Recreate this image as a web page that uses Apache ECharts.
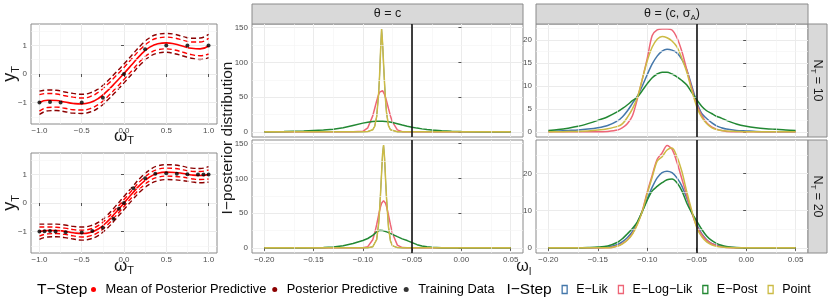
<!DOCTYPE html>
<html><head><meta charset="utf-8">
<script src="https://cdn.jsdelivr.net/npm/echarts@6/dist/echarts.min.js"></script>
<style>html,body{margin:0;padding:0;background:#fff}#c{width:830px;height:305px}</style>
</head><body><div id="c"></div>
<script>
// ---------------- DATA ----------------
// T-Step panels (x grid of the predictive curves)
const leftX = [-1.0,-0.9,-0.8,-0.7,-0.6,-0.5,-0.4,-0.3,-0.2,-0.1,0.0,0.1,0.2,0.3,0.4,0.5,0.6,0.7,0.8,0.9,1.0];
// N_T = 10
const mean10    = [-1.00,-0.92,-0.93,-0.98,-1.03,-1.05,-1.00,-0.85,-0.60,-0.30,0.02,0.35,0.68,0.93,1.06,1.09,1.05,0.97,0.90,0.88,0.98];
const innerUp10 = [-0.72,-0.68,-0.70,-0.76,-0.81,-0.84,-0.79,-0.63,-0.38,-0.08,0.23,0.56,0.88,1.13,1.26,1.29,1.26,1.18,1.12,1.12,1.25];
const innerLo10 = [-1.30,-1.17,-1.16,-1.20,-1.25,-1.26,-1.21,-1.06,-0.81,-0.51,-0.19,0.14,0.47,0.72,0.85,0.88,0.84,0.76,0.68,0.64,0.70];
const outerUp10 = [-0.60,-0.56,-0.57,-0.63,-0.68,-0.71,-0.66,-0.51,-0.26,0.04,0.35,0.68,1.01,1.26,1.39,1.42,1.39,1.31,1.25,1.26,1.39];
const outerLo10 = [-1.42,-1.29,-1.28,-1.32,-1.37,-1.38,-1.33,-1.18,-0.93,-0.63,-0.31,0.02,0.35,0.60,0.73,0.76,0.71,0.63,0.55,0.51,0.57];
const trainX10 = [-1,-0.875,-0.75,-0.5,-0.25,0,0.25,0.5,0.75,1];
const trainY10 = [-1.0,-0.98,-1.0,-1.0,-0.83,0.0,0.87,1.0,1.0,1.0];
// N_T = 20
const mean20    = [-1.00,-0.96,-0.96,-0.99,-1.04,-1.07,-1.03,-0.90,-0.66,-0.34,0.00,0.34,0.66,0.90,1.04,1.08,1.07,1.03,0.98,0.96,1.00];
const innerUp20 = [-0.84,-0.84,-0.85,-0.88,-0.93,-0.95,-0.91,-0.78,-0.54,-0.22,0.12,0.46,0.79,1.03,1.18,1.22,1.21,1.16,1.11,1.10,1.16];
const innerLo20 = [-1.16,-1.08,-1.07,-1.10,-1.15,-1.19,-1.15,-1.02,-0.78,-0.46,-0.12,0.22,0.53,0.77,0.90,0.94,0.93,0.90,0.85,0.82,0.84];
const outerUp20 = [-0.74,-0.74,-0.74,-0.77,-0.82,-0.84,-0.80,-0.67,-0.43,-0.11,0.23,0.57,0.90,1.15,1.30,1.34,1.33,1.28,1.22,1.21,1.27];
const outerLo20 = [-1.27,-1.19,-1.18,-1.21,-1.26,-1.30,-1.26,-1.13,-0.89,-0.57,-0.23,0.11,0.42,0.65,0.78,0.82,0.81,0.78,0.74,0.71,0.73];
const trainX20 = [-1,-0.94,-0.875,-0.81,-0.69,-0.5,-0.375,-0.25,-0.125,-0.06,0,0.11,0.25,0.37,0.5,0.625,0.75,0.875,0.94,1.0];
const trainY20 = [-1.0,-0.99,-0.98,-1.0,-1.02,-1.03,-0.98,-0.87,-0.55,-0.2,0.0,0.52,0.87,1.02,1.04,1.02,1.01,1.0,1.0,1.0];

// I-Step densities, theta = c
const xMid = [-0.2,-0.18,-0.16,-0.14,-0.13,-0.12,-0.11,-0.1,-0.095,-0.09,-0.088,-0.086,-0.084,-0.083,-0.082,-0.081,-0.08,-0.079,-0.078,-0.077,-0.076,-0.074,-0.072,-0.07,-0.065,-0.06,-0.055,-0.05,-0.045,-0.04,-0.035,-0.03,-0.02,-0.01,0,0.02,0.05];
const midTopELik   = [0,0,0,0,0,0,0,0.1,0.5,3,8,22,55,82,118,148,128,98,70,46,28,9,3,1.2,0.2,0,0,0,0,0,0,0,0,0,0,0,0];
const midTopELogLik= [0,0,0,0,0,0,0,0.8,5.9,23,33.6,44.6,53.9,57.2,59.3,60,59.3,57.2,53.9,49.6,44.6,33.6,23,14.3,2.9,0.3,0,0,0,0,0,0,0,0,0,0,0];
const midTopEPost  = [0.2,0.5,1.2,2.6,3.8,5.8,9.2,12.6,14,14.8,15,15.2,15.3,15.3,15.3,15.3,15.3,15.2,15.2,15.1,15,14.7,14.2,13.6,11.8,9.8,8,6.6,5.4,4.3,3.4,2.6,1.5,0.9,0.5,0.2,0.1];
const midTopPoint  = [0,0,0,0,0,0,0,0.1,0.5,3,8,22,55,82,118,148,128,98,70,46,28,9,3,1.2,0.2,0,0,0,0,0,0,0,0,0,0,0,0];
const midBotELik   = [0,0,0,0,0,0,0,0,0.2,1.5,4,12,35,55,80,108,135,148,130,100,72,30,10,3,0.4,0,0,0,0,0,0,0,0,0,0,0,0];
const midBotELogLik= [0,0,0,0,0,0,0,0.1,1.7,11.7,21,33.4,47.3,53.9,59.7,64.2,67,68,67,64.2,59.7,47.3,33.4,21,4,0.4,0,0,0,0,0,0,0,0,0,0,0];
const midBotEPost  = [0.05,0.1,0.2,0.6,1.4,3.2,6.2,10.6,13.5,18,20.5,23,24.8,25.2,25.3,25.2,25,24.7,24.2,23.7,23.1,22,20.8,19.5,16.2,13,10.5,7.5,4.6,2.6,1.5,0.9,0.3,0.1,0.05,0,0];
const midBotPoint  = [0,0,0,0,0,0,0,0,0.2,1.5,4,12,35,55,80,108,135,148,130,100,72,30,10,3,0.4,0,0,0,0,0,0,0,0,0,0,0,0];

// I-Step densities, theta = (c, sigma_A)
const xRight = [-0.2,-0.19,-0.18,-0.17,-0.16,-0.15,-0.14,-0.13,-0.125,-0.12,-0.115,-0.11,-0.105,-0.1,-0.095,-0.09,-0.085,-0.08,-0.075,-0.07,-0.065,-0.06,-0.055,-0.05,-0.045,-0.04,-0.035,-0.03,-0.025,-0.02,-0.01,0,0.01,0.02,0.03,0.04,0.05];
const rTopELik    = [0.1,0.2,0.3,0.4,0.6,0.9,1.4,2.4,3.3,4.6,6.2,7.8,10,12.5,14.8,16.5,17.6,18,17.8,17.2,15.8,13.5,10,6.5,4,2.9,2,1.3,0.9,0.6,0.3,0.2,0.1,0.05,0.05,0.05,0.05];
const rTopELogLik = [0,0,0,0,0,0,0.1,0.4,0.9,1.8,3.5,7.2,11.5,16,21,22.2,22.4,22.4,22.2,20.5,17.5,13.5,9.5,6,3.6,2,1.1,0.6,0.3,0.1,0,0,0,0,0,0,0];
const rTopEPost   = [0.3,0.5,0.8,1.2,1.8,2.5,3.3,4.4,5.1,5.9,6.8,7.6,9,10.5,11.8,12.6,13,13,12.6,12,11.2,10.2,8.6,7,5.6,4.6,4,3.4,3,2.5,1.7,1.2,0.9,0.7,0.55,0.4,0.3];
const rTopPoint   = [0,0,0.1,0.1,0.2,0.4,0.7,1.2,1.8,3.2,5,7.5,11.5,15.5,18.5,20.2,20.8,20.5,19.8,18.5,16,13,9,5.5,3.2,1.8,0.9,0.5,0.3,0.2,0.1,0,0,0,0,0,0];
const rBotELik    = [0,0,0,0,0,0,0.2,0.9,1.7,2.8,4.4,6.8,9.8,13.2,16.3,18.8,20.2,20.6,20.2,18.8,16.6,13.3,9.5,6.3,3.8,2.2,1.2,0.7,0.4,0.2,0.05,0,0,0,0,0,0];
const rBotELogLik = [0,0,0,0,0,0,0,0.5,1.2,2.2,3.8,6.5,10,15,19.5,23.8,25.5,27.5,26.5,23,18.5,14,9.5,5.8,3.6,2,1.1,0.6,0.3,0.1,0,0,0,0,0,0,0];
const rBotEPost   = [0,0,0.05,0.05,0.1,0.2,0.5,1.5,2.5,3.8,5.2,7,9.8,12.8,15.3,16.5,17.5,18.3,18.5,17.5,15.3,12,9.4,7.2,5,3.2,2,1.2,0.7,0.4,0.1,0,0,0,0,0,0];
const rBotPoint   = [0,0,0,0,0,0,0,0.5,1.1,2.1,3.7,6.3,9.8,14.6,19,23.3,24.5,26.3,26.8,24.5,20.5,15,10,5.5,3,1.6,0.8,0.4,0.2,0.1,0,0,0,0,0,0,0];

const trueOmega = -0.05;
const iStepNames = ['E\u2212Lik','E\u2212Log\u2212Lik','E\u2212Post','Point'];
const tStepNames = ['Mean of Posterior Predictive','Posterior Predictive','Training Data'];

// tick values
const leftXTicks = [-1,-0.5,0,0.5,1], leftXMinor = [-0.75,-0.25,0.25,0.75];
const leftYTicks = [-1,0,1], leftYMinor = [-1.5,-0.5,0.5,1.5];
const densXTicks = [-0.2,-0.15,-0.1,-0.05,0,0.05], densXMinor = [-0.175,-0.125,-0.075,-0.025,0.025];
const midYTicks = [0,50,100,150], midYMinor = [25,75,125];
const rTopYTicks = [0,5,10,15,20], rTopYMinor = [2.5,7.5,12.5,17.5,22.5];
const rBotYTicks = [0,10,20], rBotYMinor = [5,15,25];

// ---------------- STYLE / LAYOUT ----------------
const FF = "'Liberation Sans', Arial, sans-serif";
const COLORS = ['#4477AA','#EE6677','#228833','#CCBB44'];
const RED = '#FF0000', DARKRED = '#8B0000';
const BORDER = '#8a8a8a';
const grids = [
  {left:31, top:24, width:186, height:100},
  {left:31, top:153, width:186, height:100},
  {left:252, top:24, width:271, height:113},
  {left:252, top:140, width:271, height:113},
  {left:536, top:24, width:272, height:113},
  {left:536, top:140, width:272, height:113}
].map(g => Object.assign(g, {show:true, borderColor:BORDER, borderWidth:1, backgroundColor:'#fff'}));

const minus = '\u2212';
const fmt = d => v => (v < -1e-9 ? minus : '') + Math.abs(v).toFixed(d);

const xAxis = [], yAxis = [], series = [];
function addAxis(list, dim, gi, min, max, ticks, show, formatter) {
  list.push({
    type:'value', gridIndex:gi, min, max, position: dim==='x' ? 'bottom' : 'left',
    axisLine:{show:false},
    axisTick:{show:show, customValues:ticks, length:3, lineStyle:{color:'#555', width:1}},
    axisLabel:{show:show, customValues:ticks, formatter, fontSize:8, color:'#4d4d4d', margin: dim==='x' ? 3 : 4, fontFamily:FF},
    splitLine:{show:true, lineStyle:{color:'#ebebeb', width:1}}
  });
}
function minorGrid(gi, xs, ys) {
  series.push({type:'line', xAxisIndex:gi, yAxisIndex:gi, data:[], silent:true, z:1,
    markLine:{silent:true, symbol:['none','none'], animation:false, label:{show:false},
      lineStyle:{color:'#f3f3f3', width:0.6, type:'solid'},
      data:[...xs.map(v => ({xAxis:v})), ...ys.map(v => ({yAxis:v}))]}});
}
// left panels
addAxis(xAxis,'x',0,-1.1,1.1,leftXTicks,true,fmt(1));
addAxis(yAxis,'y',0,-1.75,1.75,leftYTicks,true,fmt(0));
addAxis(xAxis,'x',1,-1.1,1.1,leftXTicks,true,fmt(1));
addAxis(yAxis,'y',1,-1.75,1.75,leftYTicks,true,fmt(0));
// middle
addAxis(xAxis,'x',2,-0.2125,0.0625,densXTicks,false,fmt(2));
addAxis(yAxis,'y',2,-7.4,155.4,midYTicks,true,fmt(0));
addAxis(xAxis,'x',3,-0.2125,0.0625,densXTicks,true,fmt(2));
addAxis(yAxis,'y',3,-7.4,155.4,midYTicks,true,fmt(0));
// right
addAxis(xAxis,'x',4,-0.2125,0.0625,densXTicks,false,fmt(2));
addAxis(yAxis,'y',4,-1.12,23.5,rTopYTicks,true,fmt(0));
addAxis(xAxis,'x',5,-0.2125,0.0625,densXTicks,true,fmt(2));
addAxis(yAxis,'y',5,-1.38,28.98,rBotYTicks,true,fmt(0));

minorGrid(0, leftXMinor, leftYMinor);
minorGrid(1, leftXMinor, leftYMinor);
minorGrid(2, densXMinor, midYMinor);
minorGrid(3, densXMinor, midYMinor);
minorGrid(4, densXMinor, rTopYMinor);
minorGrid(5, densXMinor, rBotYMinor);

function leftSeries(gi, mean, iu, il, ou, ol, tx, ty) {
  const mk = arr => leftX.map((x,i) => [x, arr[i]]);
  const dash = (name, arr, color) => ({type:'line', name, xAxisIndex:gi, yAxisIndex:gi, data:mk(arr),
    showSymbol:false, smooth:true, silent:true, lineStyle:{color, width:1.4, type:[5,3]}, itemStyle:{color}});
  series.push(dash(tStepNames[1], ou, DARKRED), dash(tStepNames[1], ol, DARKRED),
              dash(tStepNames[0], iu, RED), dash(tStepNames[0], il, RED));
  series.push({type:'line', name:tStepNames[0], xAxisIndex:gi, yAxisIndex:gi, data:mk(mean),
    showSymbol:false, smooth:true, silent:true, lineStyle:{color:RED, width:1.6}, itemStyle:{color:RED}});
  series.push({type:'scatter', name:tStepNames[2], xAxisIndex:gi, yAxisIndex:gi,
    data:tx.map((x,i)=>[x, ty[i]]), symbolSize:4, silent:true, itemStyle:{color:'#000'}, z:5});
}
leftSeries(0, mean10, innerUp10, innerLo10, outerUp10, outerLo10, trainX10, trainY10);
leftSeries(1, mean20, innerUp20, innerLo20, outerUp20, outerLo20, trainX20, trainY20);

function densSeries(gi, xs, arrs, smooth, hiddenFirst) {
  arrs.forEach((arr, k) => {
    const w = (hiddenFirst && k === 0) ? 1.0 : 1.5;
    const s = {type:'line', name:iStepNames[k], xAxisIndex:gi, yAxisIndex:gi,
      data: xs.map((x,i)=>[x, arr[i]]), showSymbol:false, smooth, silent:true,
      lineStyle:{color:COLORS[k], width:w}, itemStyle:{color:COLORS[k]}};
    if (k === 3) {
      s.markLine = {silent:true, symbol:['none','none'], animation:false, label:{show:false},
        lineStyle:{color:'#111', width:1.6, type:'solid'}, data:[{xAxis: trueOmega}]};
    }
    series.push(s);
  });
}
densSeries(2, xMid, [midTopELik, midTopELogLik, midTopEPost, midTopPoint], false, true);
densSeries(3, xMid, [midBotELik, midBotELogLik, midBotEPost, midBotPoint], false, true);
densSeries(4, xRight, [rTopELik, rTopELogLik, rTopEPost, rTopPoint], 0.3, false);
densSeries(5, xRight, [rBotELik, rBotELogLik, rBotEPost, rBotPoint], 0.3, false);

// ---------------- TEXT / STRIPS ----------------
function richText(x, y, parts, fs, sfs, rot, align) {
  let txt = '';
  parts.forEach(p => { txt += (p[1] ? '{s|' : '{m|') + p[0] + '}'; });
  return {type:'text', x, y, rotation: rot || 0, silent:true,
    style:{text:txt, align: align || 'center', verticalAlign:'middle',
      rich:{m:{fontSize:fs, fontFamily:FF, fill:'#1a1a1a', lineHeight:Math.round(fs*1.25)},
            s:{fontSize:sfs, fontFamily:FF, fill:'#1a1a1a', lineHeight:sfs, verticalAlign:'bottom'}}}};
}
const stripRect = (x,y,w,h) => ({type:'rect', silent:true, shape:{x,y,width:w,height:h}, style:{fill:'#d9d9d9', stroke:BORDER, lineWidth:1}});
const graphic = [
  stripRect(252,4,271,20), stripRect(536,4,272,20),
  stripRect(808,24,19,113), stripRect(808,140,19,113),
  richText(387.5,14,[['\u03b8 = c']],12.5,8),
  richText(672,14,[['\u03b8 = (c, \u03c3'],['A',1],[')']],12.5,8),
  richText(817.5,80.5,[['N'],['T',1],[' = 10']],12.5,8,-Math.PI/2),
  richText(817.5,196.5,[['N'],['T',1],[' = 20']],12.5,8,-Math.PI/2),
  richText(10,74,[['y'],['T',1]],18,11,Math.PI/2),
  richText(10,203,[['y'],['T',1]],18,11,Math.PI/2),
  richText(124,136,[['\u03c9'],['T',1]],17,11),
  richText(124,266,[['\u03c9'],['T',1]],17,11),
  richText(524,267,[['\u03c9'],['I',1]],16,10),
  {type:'text', x:228, y:138, rotation:Math.PI/2, silent:true,
    style:{text:'I\u2212posterior distribution', fontSize:15.5, fontFamily:FF, fill:'#1a1a1a', align:'center', verticalAlign:'middle'}},
  {type:'text', x:37, y:290, silent:true,
    style:{text:'T\u2212Step', fontSize:15.5, fontFamily:FF, fill:'#000', align:'left', verticalAlign:'middle'}},
  {type:'text', x:506.5, y:290, silent:true,
    style:{text:'I\u2212Step', fontSize:15.5, fontFamily:FF, fill:'#000', align:'left', verticalAlign:'middle'}}
];

const legend = [
  {data: tStepNames.map(n => ({name:n, icon:'circle'})), left:91, top:283, padding:0,
   itemWidth:14, itemHeight:5, itemGap:6, selectedMode:false,
   textStyle:{fontSize:12.8, color:'#000', fontFamily:FF}},
  {data: iStepNames.map((n,k) => ({name:n, icon:'rect',
      itemStyle:{color:'rgba(0,0,0,0)', borderColor:COLORS[k], borderWidth:1.3}})),
   left:561.5, top:283, padding:0, itemWidth:5, itemHeight:8, itemGap:10, selectedMode:false,
   textStyle:{fontSize:12.5, color:'#000', fontFamily:FF, padding:[0,0,0,4]}}
];

const chart = echarts.init(document.getElementById('c'), null, {renderer:'canvas', width:830, height:305});
chart.setOption({animation:false, backgroundColor:'#fff', grid:grids, xAxis, yAxis, series, legend, graphic});
</script></body></html>
